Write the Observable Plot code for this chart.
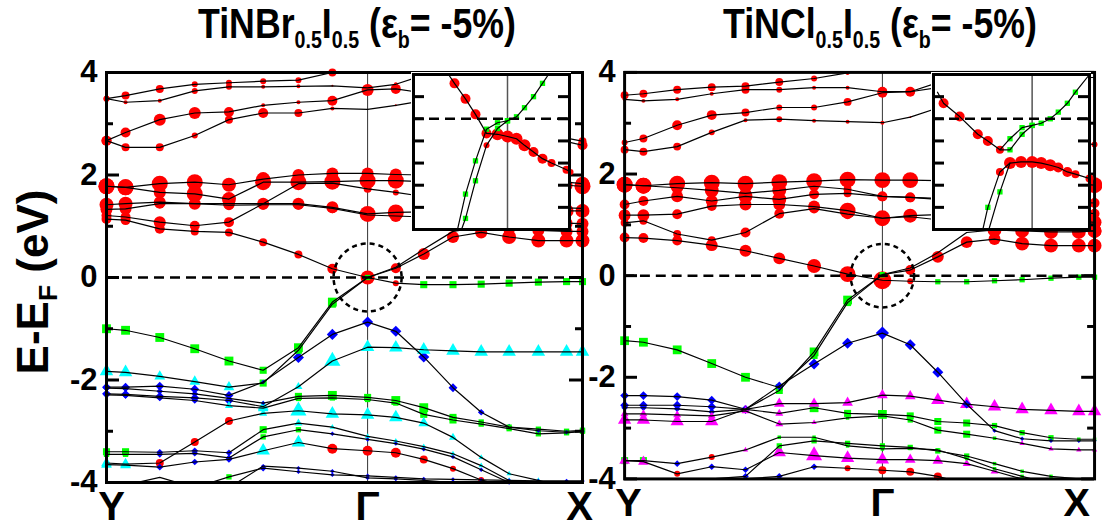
<!DOCTYPE html>
<html><head><meta charset="utf-8">
<script src="https://cdn.jsdelivr.net/npm/d3@7"></script>
<script src="https://cdn.jsdelivr.net/npm/@observablehq/plot@0.6"></script>
<style>
body{margin:0;background:#fff;}
#wrap{position:relative;width:1102px;height:529px;overflow:hidden;font-family:"Liberation Sans",Arial,sans-serif;color:#000;}
.abs{position:absolute;}
.title{position:absolute;top:0px;font-weight:bold;font-size:42px;white-space:nowrap;transform:translateX(-50%) scaleX(0.85);}
.sub{font-size:0.55em;vertical-align:-0.45em;}
.ylab{position:absolute;left:36px;top:282px;font-weight:bold;font-size:44px;white-space:nowrap;transform:translate(-50%,-50%) rotate(-90deg);}
.subF{font-size:0.6em;vertical-align:-0.35em;}
</style></head>
<body>
<div id="wrap">
  <div class="title" style="left:357px">TiNBr<span class="sub">0.5</span>I<span class="sub">0.5</span> (ε<span class="sub">b</span>= -5%)</div>
  <div class="title" style="left:880px">TiNCl<span class="sub">0.5</span>I<span class="sub">0.5</span> (ε<span class="sub">b</span>= -5%)</div>
  <div class="ylab">E-E<span class="subF">F</span> (eV)</div>
</div>
<script>
// ---------- k-path (Y -> Γ -> X) ----------
const kPath = [0, 0.073, 0.204, 0.338, 0.469, 0.600, 0.735, 0.865, 1.000, 1.108, 1.215, 1.327, 1.435, 1.542, 1.654, 1.762, 1.823];
const kLabelPos = [0, 1.0, 1.823];
const kLabels = ["Y", "Γ", "X"];
const majorTicks = [-4, -2, 0, 2, 4];
const minorTicks = [-3, -1, 1, 3];
const insetTicks = [-0.4, -0.3, -0.2, -0.1, 0, 0.1];

// ---------- TiNBr0.5I0.5 bands (eV) ----------
const brE = [
 [3.49,3.55,3.68,3.77,3.80,3.83,3.85,4.00,4.15,4.25,4.30,4.30,4.30,4.30,4.30,4.30,4.30],
 [3.49,3.42,3.45,3.64,3.72,3.72,3.73,3.74,3.70,3.77,3.95,4.10,4.20,4.20,4.20,4.20,4.20],
 [2.67,2.83,3.08,3.21,3.23,3.36,3.42,3.45,3.66,3.68,3.60,3.40,3.20,3.00,2.85,2.72,2.66],
 [2.67,2.54,2.54,2.77,3.08,3.21,3.21,3.30,3.28,3.36,3.45,3.30,3.10,2.90,2.75,2.65,2.58],
 [1.78,1.76,1.83,1.86,1.81,1.92,2.00,2.03,2.03,2.01,2.00,1.98,1.95,1.92,1.90,1.86,1.83],
 [1.78,1.76,1.66,1.63,1.53,1.86,1.86,1.87,1.89,1.89,1.87,1.85,1.83,1.82,1.81,1.80,1.78],
 [1.42,1.44,1.47,1.44,1.44,1.44,1.44,1.37,1.24,1.27,1.28,1.29,1.30,1.30,1.30,1.30,1.30],
 [1.33,1.34,1.44,1.44,1.41,1.42,1.42,1.35,1.22,1.20,1.18,1.15,1.12,1.10,1.08,1.06,1.05],
 [1.21,1.18,1.08,1.01,1.08,1.44,1.83,1.84,1.73,1.66,1.58,1.50,1.45,1.40,1.38,1.36,1.35],
 [1.14,1.12,0.95,0.90,0.88,0.69,0.45,0.17,0.00,-0.11,-0.14,-0.14,-0.13,-0.11,-0.09,-0.08,-0.08],
 [-1.00,-1.03,-1.17,-1.39,-1.63,-1.81,-1.37,-0.48,0.00,0.18,0.46,0.79,0.88,0.79,0.72,0.72,0.72],
 [-1.83,-1.85,-1.93,-2.03,-2.14,-2.06,-1.42,-0.52,0.00,0.20,0.55,0.90,0.98,0.95,0.92,0.90,0.90],
 [-2.14,-2.14,-2.12,-2.18,-2.30,-2.04,-1.56,-1.11,-0.87,-1.05,-1.55,-2.15,-2.63,-2.92,-2.99,-3.02,-3.00],
 [-2.27,-2.28,-2.32,-2.35,-2.40,-2.52,-2.13,-1.63,-1.36,-1.37,-1.41,-1.43,-1.45,-1.45,-1.45,-1.45,-1.45],
 [-2.16,-2.17,-2.22,-2.27,-2.36,-2.45,-2.32,-2.30,-2.34,-2.40,-2.54,-2.73,-2.82,-2.92,-2.96,-3.00,-2.98],
 [-2.29,-2.30,-2.35,-2.40,-2.50,-2.55,-2.36,-2.35,-2.38,-2.45,-2.67,-2.78,-2.86,-2.95,-3.05,-3.03,-3.00],
 [-3.62,-3.64,-3.62,-3.21,-2.80,-2.65,-2.60,-2.66,-2.68,-2.73,-2.84,-3.12,-3.51,-3.83,-3.96,-4.10,-4.20],
 [-3.40,-3.40,-3.41,-3.38,-3.42,-2.97,-2.84,-2.92,-3.10,-3.19,-3.30,-3.44,-3.67,-3.96,-4.10,-4.20,-4.20],
 [-3.45,-3.45,-3.45,-3.43,-3.52,-3.11,-2.97,-3.05,-3.16,-3.24,-3.35,-3.50,-3.75,-4.00,-4.10,-4.20,-4.20],
 [-3.65,-3.66,-3.70,-3.60,-3.55,-3.38,-3.22,-3.34,-3.38,-3.42,-3.55,-3.73,-3.95,-4.10,-4.20,-4.20,-4.20],
 [-4.10,-4.05,-3.90,-4.10,-3.89,-3.72,-3.79,-3.85,-3.87,-3.90,-3.93,-3.94,-3.95,-3.96,-3.97,-3.97,-3.97],
 [-4.30,-4.30,-4.10,-4.20,-4.10,-3.68,-3.72,-3.78,-3.91,-3.93,-3.96,-4.00,-4.05,-4.10,-4.10,-4.10,-4.10]
];
// marker kind per point: R red circle, G green square, B blue diamond, C cyan triangle, M magenta triangle
const brT = [
 "RRRRRRRRRRRRRRRRR","RRRRRRRRRRRRRRRRR","RRRRRRRRRRRRRRRRR","RRRRRRRRRRRRRRRRR",
 "RRRRRRRRRRRRRRRRR","RRRRRRRRRRRRRRRRR","RRRRRRRRRRRRRRRRR","RRRRRRRRRRRRRRRRR",
 "RRRRRRRRRRRRRRRRR","RRRRRRRRRRGGGGGGG","GGGGGGGGGRRRRRRRR","CCCCCGGGGRRRRRRRR",
 "BBBBBBBBBBBBBBBBB","BBBBBCCCCCCCCCCCC","BBBBBBGGGGGGGGGGG","BBBBCCGGGGGGGGGGG",
 "CCRRRCCCCCCCCCCCC","GGBBBGCCCCCCCCCCC","GGBBBGGBBBBBBBBBB","CCBBBCCRRRRRRRRRR",
 "BBBBGBBBBBBBBBBBB","BBBBBBBBBBBBBBBBB"
];
// marker radius per point (px)
const brS = [
 "34433334000000000","32233221120000000","55665225653333334","54434542013333335",
 "88887766663333337","88687888886666668","77666666887777777","66555555566666666",
 "55655445433333334","55544445734444444","55555455356667777","55444444000066666",
 "44444255555433222","44444436555555555","33332245455433333","33333433334433333",
 "44444365554322200","44333432222222200","33333332222222200","44333555554330000",
 "00003322222222222","00000222220000000"
];

// ---------- TiNCl0.5I0.5 bands (eV) ----------
const clE = [
 [3.55,3.58,3.66,3.71,3.73,3.81,3.88,3.99,4.10,4.20,4.30,4.30,4.30,4.30,4.30,4.30,4.30],
 [3.47,3.44,3.47,3.58,3.66,3.66,3.70,3.70,3.62,3.62,3.80,3.95,4.05,4.05,4.00,4.00,4.00],
 [2.62,2.70,2.96,3.16,3.21,3.31,3.31,3.42,3.60,3.62,3.70,3.80,3.85,3.90,3.90,3.90,3.90],
 [2.48,2.44,2.54,2.82,3.06,3.08,3.05,3.03,3.01,3.12,3.30,3.20,3.00,2.80,2.70,2.62,2.58],
 [1.79,1.77,1.81,1.83,1.81,1.84,1.86,1.89,1.88,1.88,1.87,1.86,1.85,1.84,1.82,1.80,1.78],
 [1.79,1.77,1.73,1.68,1.62,1.68,1.76,1.70,1.56,1.54,1.52,1.50,1.48,1.46,1.45,1.44,1.43],
 [1.40,1.47,1.56,1.47,1.56,1.50,1.60,1.62,1.56,1.54,1.50,1.45,1.40,1.35,1.30,1.25,1.22],
 [1.19,1.19,1.21,1.37,1.40,1.40,1.36,1.28,1.13,1.18,1.20,1.18,1.15,1.12,1.10,1.08,1.05],
 [1.04,1.08,0.82,0.70,0.85,1.22,1.32,1.21,1.13,1.16,1.10,1.00,0.95,0.92,0.90,0.88,0.88],
 [0.75,0.74,0.69,0.60,0.49,0.34,0.19,0.03,-0.09,-0.11,-0.12,-0.12,-0.10,-0.08,-0.05,-0.03,-0.03],
 [-1.28,-1.31,-1.46,-1.73,-2.00,-2.20,-1.57,-0.53,0.02,0.11,0.37,0.66,0.72,0.63,0.59,0.59,0.59],
 [-2.55,-2.55,-2.55,-2.58,-2.63,-2.26,-1.50,-0.48,0.02,0.15,0.45,0.85,0.90,0.88,0.86,0.86,0.88],
 [-2.36,-2.36,-2.38,-2.45,-2.63,-2.17,-1.74,-1.33,-1.13,-1.36,-1.90,-2.53,-3.05,-3.21,-3.25,-3.25,-3.25],
 [-2.84,-2.84,-2.87,-2.87,-2.63,-2.52,-2.52,-2.50,-2.35,-2.37,-2.45,-2.53,-2.58,-2.63,-2.65,-2.67,-2.67],
 [-2.60,-2.60,-2.62,-2.68,-2.63,-2.71,-2.60,-2.71,-2.73,-2.76,-2.87,-2.90,-2.95,-3.09,-3.19,-3.22,-3.22],
 [-2.72,-2.72,-2.74,-2.76,-2.66,-2.92,-2.89,-2.80,-2.76,-2.84,-3.04,-3.12,-3.20,-3.30,-3.41,-3.43,-3.43],
 [-3.64,-3.64,-3.70,-3.57,-3.43,-3.18,-3.18,-3.35,-3.41,-3.40,-3.43,-3.60,-3.80,-3.95,-4.10,-4.10,-4.10],
 [-3.64,-3.66,-3.90,-3.76,-3.82,-3.48,-3.54,-3.59,-3.62,-3.62,-3.64,-3.70,-3.85,-4.00,-4.10,-4.10,-4.10],
 [-4.10,-4.10,-4.10,-4.00,-3.95,-3.35,-3.25,-3.30,-3.35,-3.38,-3.45,-3.55,-3.70,-3.85,-3.95,-4.00,-4.00],
 [-4.20,-4.20,-4.20,-4.05,-4.00,-3.95,-3.76,-3.79,-3.83,-3.86,-3.95,-4.10,-4.20,-4.20,-4.20,-4.20,-4.20]
];
const clT = [
 "RRRRRRRRRRRRRRRRR","RRRRRRRRRRRRRRRRR","RRRRRRRRRRRRRRRRR","RRRRRRRRRRRRRRRRR",
 "RRRRRRRRRRRRRRRRR","RRRRRRRRRRRRRRRRR","RRRRRRRRRRRRRRRRR","RRRRRRRRRRRRRRRRR",
 "RRRRRRRRRRRRRRRRR","RRRRRRRRRRGGGGGGG","GGGGGGGGGRRRRRRRR","BBBBBGGGGRRRRRRRR",
 "BBBBBBBBBBBBBBBBB","MMMMMMMMMMMMMMMMM","BBBBBMGGGGGGGGGGG","MMMMMMMGGGGGGMMMM",
 "GGBRMGGGGGGGGGGGG","MMRBBMMMMMMMMMMMM","BBBBBGGGGGGGGGGGG","RRRRRBBRRRRRRRRRR"
];
const clS = [
 "44444432000000000","22224322530000000","34554334550000000","44432322211000003",
 "88888888887777778","88676754555555555","55667754555555555","66556668877777777",
 "44445555544444447","55566678933333333","55555444356667777","44444455300077777",
 "44444455655422222","55553444445555555","33333354544433322","33333322234422222",
 "44332222222222000","44333565544330000","00003333333322200","00000333444300000"
];

// ---------- insets: zoom around Γ (k offset, energy in eV) ----------
const brInsetK = [
 [-5.9,-5.3,-4.2,-3.2,-2.1,-1.0,0,0.9,1.7,2.6,3.5,4.4,5.9,6.3],
 [-5.0,-4.2,-3.2,-2.1,-1.0,0,0.9,1.7,2.6,3.5,4.1],
 [-4.6,-4.2,-3.2,-2.1,-1.0,0]
];
const brInsetE = [
 [0.20,0.16,0.09,0.02,-0.066,-0.07,-0.08,-0.09,-0.12,-0.15,-0.18,-0.20,-0.23,-0.24],
 [-0.50,-0.34,-0.19,-0.047,-0.018,-0.009,0.009,0.05,0.10,0.16,0.20],
 [-0.50,-0.45,-0.28,-0.12,-0.044,-0.009]
];
const brInsetT = ["RRRRRRRRRRRRRR", "GGGGGGGGGGG", "GGGRGG"];
const brInsetS = ["05555666655443", "03333333330", "033333"];

const clInsetK = [
 [-9.4,-8.8,-7.2,-5.4,-4.4,-3.2,-2.2,-1.0,0,0.9,1.8,2.6,3.5,4.3,5.7],
 [-3.2,-2.2,-1.0,0],
 [-4.9,-4.4,-3.2,-2.2,-1.1,0,0.9,1.8,2.6,3.5,4.3,5.7,6.2],
 [-4.3,-3.2,-2.2]
];
const clInsetE = [
 [0.12,0.07,0.01,-0.07,-0.10,-0.14,-0.09,-0.04,-0.03,-0.02,0.00,0.03,0.07,0.12,0.20],
 [-0.14,-0.14,-0.07,-0.03],
 [-0.50,-0.40,-0.24,-0.20,-0.195,-0.195,-0.20,-0.21,-0.22,-0.24,-0.25,-0.27,-0.28],
 [-0.50,-0.33,-0.20]
];
const clInsetT = ["RRRRRRGGGGGGGGG", "RGGG", "GGRRRRRRRRRRR", "GGG"];
const clInsetS = ["055554333333330", "0333", "0346666655440", "030"];

// ---------- styling ----------
const symbolOf = {R: "circle", G: "square", B: "diamond2", C: "triangle", M: "triangle"};
const colorOf = {R: "#ff0000", G: "#00ff00", B: "#0000ff", C: "#00ffff", M: "#ff00ff"};
const kGamma = kLabelPos[1];

function rowsFrom(E, T, S, K) {
  const rows = [];
  E.forEach((band, b) => band.forEach((e, i) => rows.push({b, k: K ? K[b][i] : kPath[i], e, t: T[b][i], s: +S[b][i]})));
  return rows;
}

function mainPanel(E, T, S, left, width, gammaR, labelDx) {
  const ml = 106, mr = 8, mt = 10, mb = 47, height = 467;
  const fw = width - ml - mr;
  const rows = rowsFrom(E, T, S);
  const dots = rows.filter(d => d.s > 0 && Math.abs(d.e) <= 4.05);
  const labelAxes = kLabelPos.map((p, i) =>
    Plot.axisX([p], {tickSize: 0, tickPadding: 9, fontSize: 40, fontWeight: "bold", dx: labelDx[i], tickFormat: () => kLabels[i], label: null}));
  const svg = Plot.plot({
    width, height, marginLeft: ml, marginRight: mr, marginTop: mt, marginBottom: mb,
    x: {domain: [0, kPath[kPath.length - 1]], axis: null},
    y: {domain: [-4, 4], axis: null},
    r: {type: "identity"},
    style: {background: "transparent", overflow: "visible", fontFamily: "Liberation Sans, Arial, sans-serif"},
    marks: [
      Plot.ruleX([kGamma], {stroke: "#333", strokeWidth: 1}),
      Plot.dot(dots, {x: "k", y: "e", r: "s", symbol: d => symbolOf[d.t], fill: d => colorOf[d.t]}),
      Plot.line(rows, {x: "k", y: "e", z: "b", stroke: "black", strokeWidth: 1.2, clip: true}),
      Plot.ruleY([0], {stroke: "black", strokeWidth: 2.5, strokeDasharray: "10,6"}),
      Plot.dot([{k: kGamma, e: 0}], {x: "k", y: "e", r: gammaR, stroke: "black", strokeWidth: 2.5, strokeDasharray: "5,4", fill: "none"}),
      Plot.ruleY(majorTicks, {insetRight: fw - 13, strokeWidth: 3}),
      Plot.ruleY(majorTicks, {insetLeft: fw - 13, strokeWidth: 3}),
      Plot.ruleY(minorTicks, {insetRight: fw - 7, strokeWidth: 3}),
      Plot.ruleY(minorTicks, {insetLeft: fw - 7, strokeWidth: 3}),
      Plot.axisY(majorTicks, {tickSize: 0, tickPadding: 9, fontSize: 31, fontWeight: "bold", tickFormat: d => String(d), label: null}),
      ...labelAxes,
      Plot.frame({stroke: "black", strokeWidth: 3})
    ]
  });
  const div = document.createElement("div");
  div.className = "abs";
  div.style.left = left + "px";
  div.style.top = "62px";
  div.appendChild(svg);
  document.getElementById("wrap").appendChild(div);
}

function insetPanel(K, E, T, S, left, xDomain) {
  const W = 160, H = 159, m = 2;
  const fw = W - 2 * m;
  const rows = rowsFrom(E, T, S, K);
  const dots = rows.filter(d => d.s > 0);
  const svg = Plot.plot({
    width: W, height: H, margin: m,
    x: {domain: xDomain, axis: null},
    y: {domain: [-0.5, 0.2], axis: null},
    r: {type: "identity"},
    style: {background: "white", overflow: "visible"},
    marks: [
      Plot.ruleX([0], {stroke: "#555", strokeWidth: 1.5}),
      Plot.dot(dots, {x: "k", y: "e", r: "s", symbol: d => symbolOf[d.t], fill: d => colorOf[d.t]}),
      Plot.line(rows, {x: "k", y: "e", z: "b", stroke: "black", strokeWidth: 1.2, clip: true}),
      Plot.ruleY([0], {stroke: "black", strokeWidth: 2.5, strokeDasharray: "10,6"}),
      Plot.ruleY(insetTicks, {insetRight: fw - 11, strokeWidth: 3}),
      Plot.ruleY(insetTicks, {insetLeft: fw - 11, strokeWidth: 3}),
      Plot.frame({stroke: "black", strokeWidth: 3})
    ]
  });
  const div = document.createElement("div");
  div.className = "abs";
  div.style.left = left + "px";
  div.style.top = "72px";
  div.appendChild(svg);
  document.getElementById("wrap").appendChild(div);
}

mainPanel(brE, brT, brS, 0, 590, 34, [5, 0, -3]);
mainPanel(clE, clT, clS, 519, 588, 32, [4, 0, -18]);
insetPanel(brInsetK, brInsetE, brInsetT, brInsetS, 411, [-9.4, 6.2]);
insetPanel(clInsetK, clInsetE, clInsetT, clInsetS, 931, [-9.8, 5.7]);
</script>
</body></html>
